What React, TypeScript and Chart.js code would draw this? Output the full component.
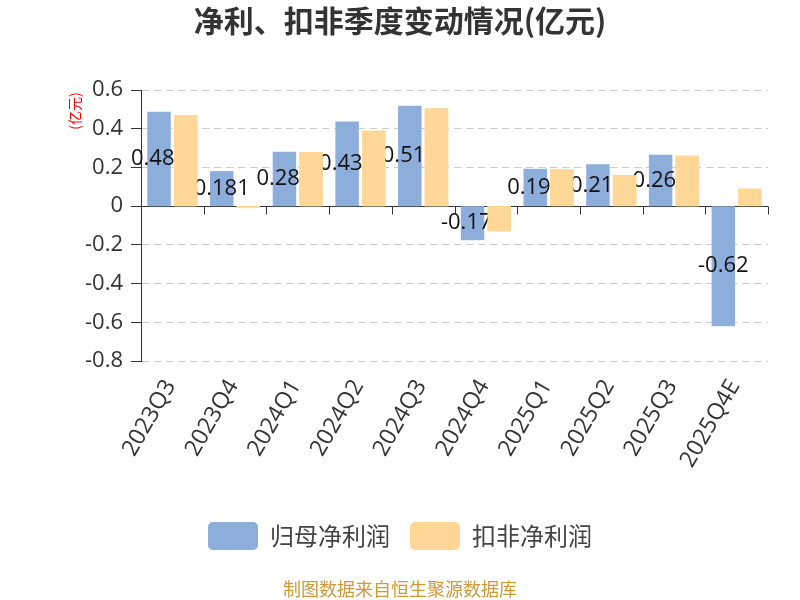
import React, { useEffect, useRef } from "react";
import { Chart, registerables } from "chart.js";

Chart.register(...registerables);

const categories = ["2023Q3", "2023Q4", "2024Q1", "2024Q2", "2024Q3", "2024Q4", "2025Q1", "2025Q2", "2025Q3", "2025Q4E"];
const netProfit = [0.487, 0.181, 0.281, 0.437, 0.518, -0.176, 0.193, 0.216, 0.266, -0.62];
const deductedNetProfit = [0.47, -0.01, 0.28, 0.39, 0.505, -0.13, 0.19, 0.16, 0.26, 0.09];
const seriesNames = ["归母净利润", "扣非净利润"];
const yTicks = [0.6, 0.4, 0.2, 0, -0.2, -0.4, -0.6, -0.8];
const titleText = "净利、扣非季度变动情况(亿元)";
const unitText = "(亿元)";
const sourceText = "制图数据来自恒生聚源数据库";

const FONT = "'Open Sans', 'Noto Sans CJK SC', sans-serif";
const CJK = "'Noto Sans CJK SC', sans-serif";
const BLUE = "#8DADDA";
const ORANGE = "#FFD898";

const decorPlugin = {
  id: "decor",
  beforeDatasetsDraw(chart: any) {
    const ctx = chart.ctx;
    const { left, right } = chart.chartArea;
    const y0 = Math.round(chart.scales.y.getPixelForValue(0)) + 0.5;
    const n = categories.length;
    ctx.save();
    ctx.strokeStyle = "#333";
    ctx.lineWidth = 1;
    ctx.beginPath();
    ctx.moveTo(left, y0);
    ctx.lineTo(right, y0);
    for (let k = 0; k <= n; k++) {
      const px = Math.round(left + ((right - left) * k) / n) + 0.5;
      ctx.moveTo(px, y0);
      ctx.lineTo(px, y0 + 8);
    }
    ctx.stroke();
    ctx.restore();
  },
  afterDatasetsDraw(chart: any) {
    const ctx = chart.ctx;
    const meta = chart.getDatasetMeta(0);
    const data = chart.data.datasets[0].data;
    ctx.save();
    ctx.font = `22px ${FONT}`;
    ctx.fillStyle = "#111";
    ctx.textAlign = "center";
    ctx.textBaseline = "middle";
    meta.data.forEach((bar: any, i: number) => {
      const cy = (bar.y + bar.base) / 2;
      ctx.fillText(String(data[i]), bar.x, cy);
    });
    ctx.restore();
    // the second series is drawn above the labels, as in the reference
    const meta2 = chart.getDatasetMeta(1);
    meta2.data.forEach((el: any) => el.draw(ctx));
  },
  afterDraw(chart: any) {
    const ctx = chart.ctx;
    ctx.save();
    ctx.textAlign = "center";
    ctx.textBaseline = "middle";
    ctx.font = `bold 30px ${CJK}`;
    ctx.fillStyle = "#333";
    ctx.fillText(titleText, 400, 21);

    ctx.font = `18px ${CJK}`;
    ctx.fillStyle = "#CC9A3A";
    ctx.fillText(sourceText, 400, 589);

    ctx.translate(75, 111);
    ctx.rotate(-Math.PI / 2);
    ctx.font = `14px ${CJK}`;
    ctx.fillStyle = "#ff0000";
    ctx.fillText(unitText, 0, 0);
    ctx.restore();
  },
};

export default function App() {
  const ref = useRef<HTMLCanvasElement | null>(null);

  useEffect(() => {
    if (!ref.current) return;
    const chart = new Chart(ref.current, {
      type: "bar",
      data: {
        labels: categories,
        datasets: [
          {
            label: seriesNames[0],
            data: netProfit,
            backgroundColor: BLUE,
            borderWidth: 0,
            categoryPercentage: 0.85,
            barPercentage: 0.88,
          },
          {
            label: seriesNames[1],
            data: deductedNetProfit,
            backgroundColor: ORANGE,
            borderWidth: 0,
            categoryPercentage: 0.85,
            barPercentage: 0.88,
          },
        ],
      },
      options: {
        responsive: false,
        animation: false,
        layout: { padding: { top: 90, left: 32, right: 32, bottom: 40 } },
        plugins: {
          title: { display: false },
          tooltip: { enabled: false },
          legend: {
            display: true,
            position: "bottom",
            labels: {
              boxWidth: 50,
              boxHeight: 28,
              useBorderRadius: true,
              borderRadius: 5,
              padding: 20,
              color: "#444",
              font: { size: 24, family: CJK },
            },
          },
        },
        scales: {
          x: {
            grid: { display: false },
            border: { display: false },
            ticks: {
              autoSkip: false,
              minRotation: 60,
              maxRotation: 60,
              padding: 6,
              labelOffset: -2,
              color: "#333",
              font: { size: 23, family: FONT },
            },
            afterFit: (scale: any) => {
              scale.height = 141;
            },
          },
          y: {
            min: Math.min(...yTicks),
            max: Math.max(...yTicks),
            grid: {
              color: (c: any) => (c.tick && Math.abs(c.tick.value) < 1e-9 ? "rgba(0,0,0,0)" : "#cccccc"),
              lineWidth: 1,
              tickLength: 10,
              tickColor: "#333",
              tickWidth: 1,
              tickBorderDash: [],
            },
            border: { display: true, color: "#333", width: 1, dash: [7, 5] },
            ticks: {
              stepSize: 0.2,
              padding: 8,
              color: "#333",
              font: { size: 22, family: FONT },
              callback: (v: any) => {
                const n = Number(Number(v).toFixed(1));
                return Math.abs(n) < 1e-9 ? "0" : String(n);
              },
            },
            afterFit: (scale: any) => {
              scale.width = 109;
            },
          },
        },
      },
      plugins: [decorPlugin],
    });
    return () => chart.destroy();
  }, []);

  return (
    <div style={{ position: "absolute", left: 0, top: 0, width: 800, height: 600, background: "#fff" }}>
      <canvas ref={ref} width={800} height={600} style={{ display: "block" }} />
    </div>
  );
}
